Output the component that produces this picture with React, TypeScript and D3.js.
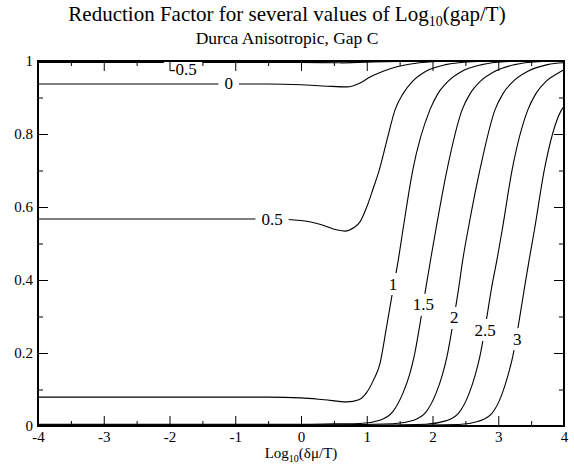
import { useEffect, useRef } from "react";
import * as d3 from "d3";

type Pt = [number, number];

// log10(gap/T) of each curve
const gapLabels = ["-0.5", "0", "0.5", "1", "1.5", "2", "2.5", "3"];

// reduction factor vs log10(dmu/T)
const curveM05: Pt[] = [[-4, 0.996], [-2, 0.996], [0, 0.996], [0.6, 0.995], [1.0, 0.997], [1.5, 0.999], [2, 1], [4, 1]];
const curve0: Pt[] = [[-4, 0.937], [-2, 0.937], [-0.5, 0.937], [0, 0.935], [0.4, 0.931], [0.7, 0.929], [0.9, 0.94], [1.05, 0.956], [1.25, 0.972], [1.46, 0.984], [1.8, 0.995], [2.3, 1], [4, 1]];
const curve05: Pt[] = [[-4, 0.567], [-2, 0.567], [-0.5, 0.567], [0, 0.563], [0.3, 0.552], [0.55, 0.537], [0.67, 0.534], [0.8, 0.543], [0.9, 0.56], [1.0, 0.6], [1.1, 0.652], [1.19, 0.701], [1.31, 0.785], [1.43, 0.866], [1.55, 0.91], [1.7, 0.945], [1.9, 0.972], [2.2, 0.99], [2.6, 0.998], [3, 1], [4, 1]];
const curve1: Pt[] = [[-4, 0.079], [-2, 0.079], [-0.5, 0.079], [0, 0.077], [0.35, 0.072], [0.7, 0.066], [0.88, 0.072], [1.0, 0.092], [1.1, 0.125], [1.2, 0.17], [1.3, 0.27], [1.4, 0.375], [1.48, 0.455], [1.55, 0.537], [1.7, 0.701], [1.96, 0.866], [2.08, 0.91], [2.24, 0.945], [2.45, 0.972], [2.75, 0.99], [3.1, 0.998], [3.5, 1], [4, 1]];
const curve15: Pt[] = [[-4, 0.005], [0, 0.005], [0.5, 0.006], [0.9, 0.007], [1.2, 0.016], [1.4, 0.04], [1.55, 0.09], [1.65, 0.14], [1.72, 0.19], [1.81, 0.28], [1.9, 0.38], [1.98, 0.465], [2.05, 0.537], [2.22, 0.701], [2.45, 0.866], [2.57, 0.91], [2.73, 0.945], [2.95, 0.972], [3.25, 0.99], [3.6, 0.998], [4, 1]];
const curve2: Pt[] = [[-4, 0.003], [0.5, 0.003], [1.4, 0.006], [1.7, 0.015], [1.9, 0.038], [2.05, 0.088], [2.15, 0.14], [2.22, 0.19], [2.31, 0.28], [2.4, 0.38], [2.46, 0.455], [2.54, 0.537], [2.72, 0.701], [2.95, 0.866], [3.07, 0.91], [3.23, 0.945], [3.45, 0.972], [3.75, 0.99], [4, 0.995]];
const curve25: Pt[] = [[-4, 0.002], [1, 0.002], [1.9, 0.005], [2.2, 0.014], [2.4, 0.036], [2.55, 0.086], [2.65, 0.14], [2.72, 0.19], [2.81, 0.28], [2.9, 0.38], [2.98, 0.455], [3.06, 0.537], [3.21, 0.701], [3.45, 0.866], [3.57, 0.91], [3.73, 0.945], [3.9, 0.966], [4, 0.976]];
const curve3: Pt[] = [[-4, 0.002], [1.5, 0.002], [2.4, 0.004], [2.7, 0.013], [2.9, 0.034], [3.05, 0.084], [3.15, 0.14], [3.22, 0.19], [3.31, 0.28], [3.4, 0.38], [3.47, 0.455], [3.55, 0.537], [3.7, 0.701], [3.95, 0.862], [4, 0.876]];

const curves = [curveM05, curve0, curve05, curve1, curve15, curve2, curve25, curve3];

// where each curve label sits (data coords)
const labelAt: Pt[] = [[-1.79, 0.978], [-1.1, 0.937], [-0.44, 0.567], [1.4, 0.389], [1.86, 0.332], [2.33, 0.296], [2.8, 0.263], [3.29, 0.238]];

const xMajor = [-4, -3, -2, -1, 0, 1, 2, 3, 4];
const xMinor = [-3.5, -2.5, -1.5, -0.5, 0.5, 1.5, 2.5, 3.5];
const yMajor = [0, 0.2, 0.4, 0.6, 0.8, 1];
const yMinor = [0.1, 0.3, 0.5, 0.7, 0.9];

const FONT = "'Liberation Serif', 'Times New Roman', serif";

export default function App() {
  const ref = useRef<SVGSVGElement | null>(null);

  useEffect(() => {
    if (!ref.current) return;
    ref.current.innerHTML = "";

    const width = 574,
      height = 468;
    const margin = { top: 61, right: 10, bottom: 42, left: 38 };

    const svg = d3.select(ref.current);

    const x = d3.scaleLinear().domain([-4, 4]).range([margin.left, width - margin.right]);
    const y = d3.scaleLinear().domain([0, 1]).range([height - margin.bottom, margin.top]);

    const line = d3
      .line<Pt>()
      .x((d) => x(d[0]))
      .y((d) => y(d[1]))
      .curve(d3.curveMonotoneX);

    // curves
    curves.forEach((c) => {
      svg
        .append("path")
        .attr("d", line(c))
        .attr("fill", "none")
        .attr("stroke", "#000")
        .attr("stroke-width", 1.1);
    });

    // labels with white box that breaks the line
    gapLabels.forEach((lab, i) => {
      const g = svg.append("g");
      const t = g
        .append("text")
        .attr("x", x(labelAt[i][0]))
        .attr("y", y(labelAt[i][1]))
        .attr("text-anchor", "middle")
        .attr("dominant-baseline", "central")
        .attr("font-family", FONT)
        .attr("font-size", 17)
        .text(lab);
      const bb = (t.node() as SVGTextElement).getBBox();
      g.insert("rect", "text")
        .attr("x", bb.x - 6)
        .attr("y", y(labelAt[i][1]) - 11)
        .attr("width", bb.width + 12)
        .attr("height", 22)
        .attr("fill", "#fff");
    });

    const style = (g: d3.Selection<SVGGElement, unknown, null, undefined>) => {
      g.select(".domain").remove();
      g.selectAll("line").attr("stroke", "#000").attr("stroke-width", 1);
      g.selectAll("text").attr("font-family", FONT).attr("font-size", 15).attr("fill", "#000");
      g.attr("font-family", null).attr("font-size", null);
    };

    const fmt = (d: d3.NumberValue) => String(d);
    const none = () => "";

    // bottom
    svg.append("g").attr("transform", `translate(0,${y(0)})`)
      .call(d3.axisBottom(x).tickValues(xMajor).tickSize(-10).tickPadding(5).tickFormat(fmt)).call(style);
    svg.append("g").attr("transform", `translate(0,${y(0)})`)
      .call(d3.axisBottom(x).tickValues(xMinor).tickSize(-5).tickFormat(none)).call(style);
    // top
    svg.append("g").attr("transform", `translate(0,${y(1)})`)
      .call(d3.axisTop(x).tickValues(xMajor).tickSize(-10).tickFormat(none)).call(style);
    svg.append("g").attr("transform", `translate(0,${y(1)})`)
      .call(d3.axisTop(x).tickValues(xMinor).tickSize(-5).tickFormat(none)).call(style);
    // left
    svg.append("g").attr("transform", `translate(${x(-4)},0)`)
      .call(d3.axisLeft(y).tickValues(yMajor).tickSize(-10).tickPadding(5).tickFormat(fmt)).call(style);
    svg.append("g").attr("transform", `translate(${x(-4)},0)`)
      .call(d3.axisLeft(y).tickValues(yMinor).tickSize(-5).tickFormat(none)).call(style);
    // right
    svg.append("g").attr("transform", `translate(${x(4)},0)`)
      .call(d3.axisRight(y).tickValues(yMajor).tickSize(-10).tickFormat(none)).call(style);
    svg.append("g").attr("transform", `translate(${x(4)},0)`)
      .call(d3.axisRight(y).tickValues(yMinor).tickSize(-5).tickFormat(none)).call(style);

    // frame
    svg.append("rect")
      .attr("x", x(-4))
      .attr("y", y(1))
      .attr("width", x(4) - x(-4))
      .attr("height", y(0) - y(1))
      .attr("fill", "none")
      .attr("stroke", "#000")
      .attr("stroke-width", 2);

    // titles
    const title = svg.append("text")
      .attr("x", width / 2)
      .attr("y", 21)
      .attr("text-anchor", "middle")
      .attr("font-family", FONT)
      .attr("font-size", 21);
    title.append("tspan").text("Reduction Factor for several values of Log");
    title.append("tspan").attr("font-size", 14).attr("dy", 5).text("10");
    title.append("tspan").attr("dy", -5).text("(gap/T)");

    svg.append("text")
      .attr("x", width / 2)
      .attr("y", 44)
      .attr("text-anchor", "middle")
      .attr("font-family", FONT)
      .attr("font-size", 17.5)
      .text("Durca Anisotropic, Gap C");

    const xt = svg.append("text")
      .attr("x", (x(-4) + x(4)) / 2)
      .attr("y", 458)
      .attr("text-anchor", "middle")
      .attr("font-family", FONT)
      .attr("font-size", 15);
    xt.append("tspan").text("Log");
    xt.append("tspan").attr("font-size", 10).attr("dy", 4).text("10");
    xt.append("tspan").attr("dy", -4).text("(δμ/T)");
  }, []);

  return (
    <svg
      ref={ref}
      width={574}
      height={468}
      style={{ position: "absolute", left: 0, top: 0, background: "#fff" }}
    />
  );
}
